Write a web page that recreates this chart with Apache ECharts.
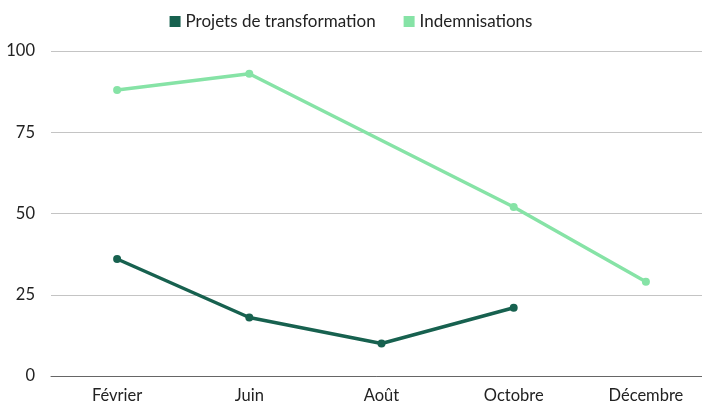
<!DOCTYPE html>
<html>
<head>
<meta charset="utf-8">
<script src="https://cdn.jsdelivr.net/npm/echarts@6/dist/echarts.min.js"></script>
<style>
  html, body { margin: 0; padding: 0; background: #fff; }
  #main { width: 702px; height: 403px; }
</style>
</head>
<body>
<div id="main"></div>
<script>
var months = ['Février', 'Juin', 'Août', 'Octobre', 'Décembre'];
var projets = [36, 18, 10, 21, null];
var indemnisations = [88, 93, null, 52, 29];
var yTicks = [0, 25, 50, 75, 100];

var myChart = echarts.init(document.getElementById('main'));

var font = 'Lato, "Noto Sans", sans-serif';

var option = {
    animation: false,
    textStyle: { fontFamily: font },
    legend: {
        top: 8,
        left: 'center',
        itemWidth: 11,
        itemHeight: 11,
        itemGap: 28,
        icon: 'rect',
        textStyle: { fontSize: 17, color: '#222', fontFamily: font },
        data: ['Projets de transformation', 'Indemnisations']
    },
    grid: {
        left: 51,
        top: 51,
        width: 661,
        height: 325,
        outerBoundsMode: 'none',
        containLabel: false
    },
    xAxis: {
        type: 'category',
        data: months,
        boundaryGap: true,
        axisTick: { show: false },
        axisLine: { lineStyle: { color: '#666', width: 1 } },
        axisLabel: { fontSize: 16.5, color: '#222', margin: 11, fontFamily: font }
    },
    yAxis: {
        type: 'value',
        min: yTicks[0],
        max: yTicks[yTicks.length - 1],
        interval: 25,
        axisLine: { show: false },
        axisTick: { show: false },
        splitLine: { lineStyle: { color: '#c4c4c4', width: 1 } },
        axisLabel: { fontSize: 16.5, color: '#222', margin: 16, fontFamily: font }
    },
    series: [
        {
            name: 'Projets de transformation',
            type: 'line',
            data: projets,
            connectNulls: true,
            symbol: 'circle',
            symbolSize: 8,
            lineStyle: { width: 3.5, color: '#17614f' },
            itemStyle: { color: '#17614f' }
        },
        {
            name: 'Indemnisations',
            type: 'line',
            data: indemnisations,
            connectNulls: true,
            symbol: 'circle',
            symbolSize: 8,
            lineStyle: { width: 3.5, color: '#86e3a6' },
            itemStyle: { color: '#86e3a6' }
        }
    ]
};

myChart.setOption(option);
</script>
</body>
</html>
